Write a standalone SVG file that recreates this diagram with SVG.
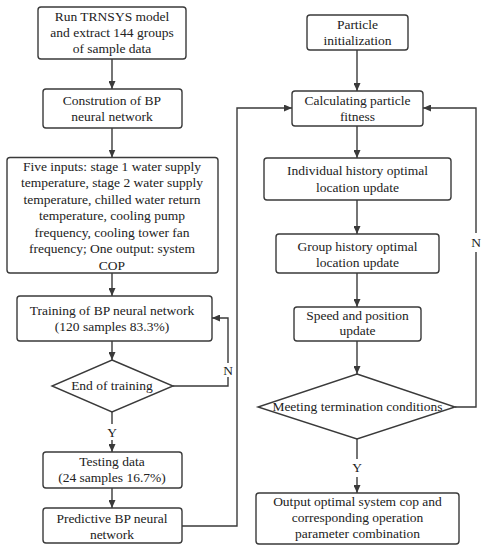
<svg xmlns="http://www.w3.org/2000/svg" width="485" height="550" viewBox="0 0 485 550" font-family="'Liberation Serif', 'Times New Roman', serif">
<defs>
<marker id="arr" markerWidth="8" markerHeight="7" refX="8" refY="3.5" orient="auto" markerUnits="userSpaceOnUse">
<path d="M0,0 L8,3.5 L0,7 z" fill="#3a3a3a"/>
</marker>
<style>
.box{fill:#fff;stroke:#3a3a3a;stroke-width:1.4}
.t{font-size:13.5px;fill:#222;text-anchor:middle}
.c{fill:none;stroke:#3a3a3a;stroke-width:1.4}
</style>
</defs>
<rect width="485" height="550" fill="#fff"/>
<g id="connectors">
<path class="c" d="M112,59 V89" marker-end="url(#arr)"/>
<path class="c" d="M112,128 V157.5" marker-end="url(#arr)"/>
<path class="c" d="M112,273 V296" marker-end="url(#arr)"/>
<path class="c" d="M112,341 V360" marker-end="url(#arr)"/>
<path class="c" d="M173,386 H228 V377"/>
<path class="c" d="M228,363 V318 H212" marker-end="url(#arr)"/>
<path class="c" d="M112,412 V424"/>
<path class="c" d="M112,440 V452" marker-end="url(#arr)"/>
<path class="c" d="M112,488 V508" marker-end="url(#arr)"/>
<path class="c" d="M182,526 H237 V108 H292" marker-end="url(#arr)"/>
<path class="c" d="M357,50 V91" marker-end="url(#arr)"/>
<path class="c" d="M357,126 V158" marker-end="url(#arr)"/>
<path class="c" d="M357,200 V234" marker-end="url(#arr)"/>
<path class="c" d="M357,273 V307" marker-end="url(#arr)"/>
<path class="c" d="M357,341 V374" marker-end="url(#arr)"/>
<path class="c" d="M455,407 H476 V252"/>
<path class="c" d="M476,233 V108 H423" marker-end="url(#arr)"/>
<path class="c" d="M357,439 V459"/>
<path class="c" d="M357,477 V493" marker-end="url(#arr)"/>
<text class="t" x="228" y="375">N</text>
<text class="t" x="112" y="437">Y</text>
<text class="t" x="476" y="247">N</text>
<text class="t" x="357" y="472">Y</text>
</g>
<g id="n1">
<rect class="box" x="38" y="7" width="148" height="52" rx="3"/>
<text class="t" x="112" y="21">Run TRNSYS model</text>
<text class="t" x="112" y="37">and extract 144 groups</text>
<text class="t" x="112" y="53">of sample data</text>
</g>
<g id="n2">
<rect class="box" x="43" y="89" width="139" height="39" rx="3"/>
<text class="t" x="112" y="104.5">Constrution of BP</text>
<text class="t" x="112" y="120.5">neural network</text>
</g>
<g id="n3">
<rect class="box" x="7" y="157.5" width="211" height="115.5" rx="3"/>
<text class="t" x="112" y="170.5">Five inputs: stage 1 water supply</text>
<text class="t" x="112" y="187">temperature, stage 2 water supply</text>
<text class="t" x="112" y="203.5">temperature, chilled water return</text>
<text class="t" x="112" y="220">temperature, cooling pump</text>
<text class="t" x="112" y="236.5">frequency, cooling tower fan</text>
<text class="t" x="112" y="253">frequency; One output: system</text>
<text class="t" x="112" y="269.5">COP</text>
</g>
<g id="n4">
<rect class="box" x="17" y="296" width="195" height="45" rx="3"/>
<text class="t" x="112" y="315">Training of BP neural network</text>
<text class="t" x="112" y="331">(120 samples 83.3%)</text>
</g>
<g id="n5">
<polygon class="box" points="112,360 173,386 112,412 52,386"/>
<text class="t" x="112" y="390">End of training</text>
</g>
<g id="n6">
<rect class="box" x="43" y="452" width="139" height="36" rx="3"/>
<text class="t" x="112" y="466">Testing data</text>
<text class="t" x="112" y="482">(24 samples 16.7%)</text>
</g>
<g id="n7">
<rect class="box" x="43" y="508" width="139" height="35" rx="3"/>
<text class="t" x="112" y="522.5">Predictive BP neural</text>
<text class="t" x="112" y="538.5">network</text>
</g>
<g id="n8">
<rect class="box" x="307" y="15" width="101" height="35" rx="3"/>
<text class="t" x="357.5" y="29">Particle</text>
<text class="t" x="357.5" y="45">initialization</text>
</g>
<g id="n9">
<rect class="box" x="292" y="91" width="131" height="35" rx="3"/>
<text class="t" x="357.5" y="104.5">Calculating particle</text>
<text class="t" x="357.5" y="120.5">fitness</text>
</g>
<g id="n10">
<rect class="box" x="264" y="158" width="187" height="42" rx="3"/>
<text class="t" x="357.5" y="175">Individual history optimal</text>
<text class="t" x="357.5" y="191.5">location update</text>
</g>
<g id="n11">
<rect class="box" x="276" y="234" width="163" height="39" rx="3"/>
<text class="t" x="357.5" y="250.5">Group history optimal</text>
<text class="t" x="357.5" y="266.5">location update</text>
</g>
<g id="n12">
<rect class="box" x="294" y="307" width="127" height="34" rx="3"/>
<text class="t" x="357.5" y="319.5">Speed and position</text>
<text class="t" x="357.5" y="335">update</text>
</g>
<g id="n13">
<polygon class="box" points="357,374 455,407 357,439 258,407"/>
<text class="t" x="357.5" y="411">Meeting termination conditions</text>
</g>
<g id="n14">
<rect class="box" x="256" y="493" width="203" height="51" rx="3"/>
<text class="t" x="357.5" y="505.5">Output optimal system cop and</text>
<text class="t" x="357.5" y="521.5">corresponding operation</text>
<text class="t" x="357.5" y="538">parameter combination</text>
</g>
</svg>
